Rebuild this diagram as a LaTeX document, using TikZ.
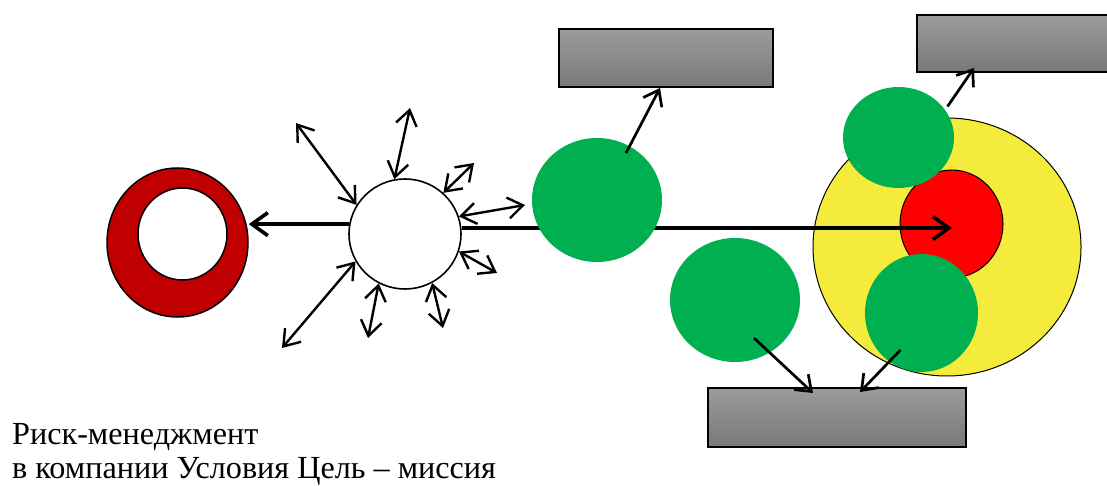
\documentclass[tikz,border=0pt]{standalone}
\usepackage{fontspec}
\setmainfont{Liberation Serif}
\usetikzlibrary{arrows.meta,shapes.geometric}

\definecolor{ringred}{HTML}{C00000}
\definecolor{leafgreen}{HTML}{00B050}
\definecolor{sunyellow}{HTML}{F5EB3C}

\tikzset{
    blob/.style={ellipse, inner sep=0pt, fill=leafgreen},
    greybox/.style={draw, line width=1.2pt, inner sep=0pt, top color=black!39, bottom color=black!53},
    pull/.style={-{Straight Barb[length=14pt,width=21pt]}, line width=2.7pt},
    twoway/.style={{Straight Barb[length=15pt,width=21pt]}-{Straight Barb[length=15pt,width=21pt]}, line width=2.4pt},
    main/.style={-{Straight Barb[length=16pt,width=23pt]}, line width=3.6pt},
    caption/.style={anchor=base west, inner sep=0pt, font=\fontsize{32.2}{36}\selectfont},
}

\begin{document}
\begin{tikzpicture}[x=1pt, y=-1pt]
        % \draw[help lines, step=50] (0,0) grid (1107,486);
        \useasboundingbox (0,0) rectangle (1107,486);

        % target: yellow field with red core
        \node[ellipse, draw, line width=1pt, fill=sunyellow, minimum width=268pt, minimum height=258pt] (field) at (947,247) {};
        \node[ellipse, draw, line width=1pt, fill=red, minimum width=103pt, minimum height=108pt] (goal) at (951.5,224) {};

        % company and ring
        \node[ellipse, draw, line width=1.5pt, fill=ringred, minimum width=141pt, minimum height=149pt] (ring) at (177.5,242.5) {};
        \node[ellipse, draw, line width=1.5pt, fill=white, minimum width=89pt, minimum height=92pt] (hole) at (182.5,234) {};
        \node[ellipse, draw, line width=1.6pt, fill=white, minimum width=112pt, minimum height=110pt] (hub) at (405,234) {};

        \coordinate (tgt) at (952,228);
        \draw[main] (hub.east |- tgt) -- (tgt);
        \draw[main] (hub.170) -- (ring.east |- hub.170);

        \foreach \ang/\px/\py [count=\i] in {149/296/123, 101/410/108, 47/474/163, 18/525/205,
                                             342/497/273, 299/443/328, 242/368/338, 209/282/348} {
            \coordinate (ray\i) at (\px,\py);
            \draw[twoway] (hub.\ang) -- (ray\i);
        }

        % boxes
        \node[greybox, minimum width=214pt, minimum height=58pt] (box1) at (666,58) {};
        \node[greybox, minimum width=193pt, minimum height=57pt] (box2) at (1013.5,43.5) {};
        \node[greybox, minimum width=258pt, minimum height=59pt] (box3) at (837,417.5) {};

        % green circles
        \node[blob, minimum width=130pt, minimum height=124pt] (g1) at (597,200) {};
        \node[blob, minimum width=130pt, minimum height=124pt] (g2) at (735,300) {};
        \node[blob, minimum width=111pt, minimum height=101pt] (g3) at (898.5,137.5) {};
        \node[blob, minimum width=113pt, minimum height=118pt] (g4) at (921.5,313) {};

        \coordinate (t1) at (660,88);
        \coordinate (t2) at (974,68);
        \coordinate (t3) at (813,393);
        \coordinate (t4) at (860,392);
        \draw[pull] ([shift={(29,-47)}]g1.center) -- (t1);
        \draw[pull] ([shift={(49,-31)}]g3.center) -- (t2);
        \draw[pull] ([shift={(19,38)}]g2.center) -- (t3);
        \draw[pull] ([shift={(-21,37)}]g4.center) -- (t4);

        \node[caption] (title) at (12,444) {Риск-менеджмент};
        \node[caption] (subtitle) at (12,478.5) {в компании Условия Цель – миссия};

\end{tikzpicture}
\end{document}
